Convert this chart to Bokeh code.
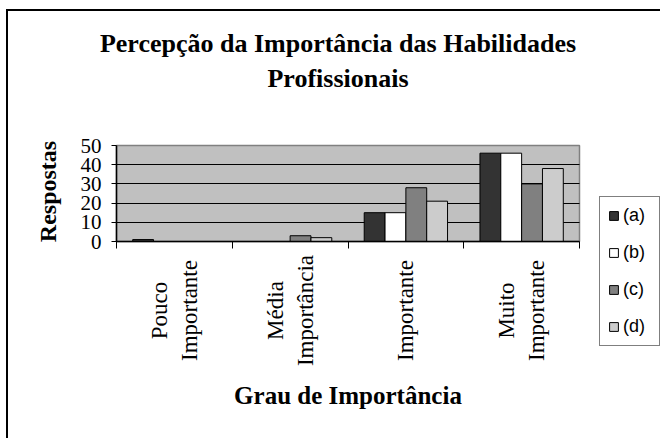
from math import pi
from bokeh.plotting import figure
from bokeh.models import Range1d, FixedTicker, Legend, LegendItem, Label, Grid
from bokeh.embed import file_html
from bokeh.resources import INLINE

# ---- data ----
categories = ["Pouco\nImportante", "Média\nImportância", "Importante", "Muito\nImportante"]
series_names = ["(a)", "(b)", "(c)", "(d)"]
values_a = [1, 0, 15, 46]
values_b = [0, 0, 15, 46]
values_c = [0, 3, 28, 30]
values_d = [0, 2, 21, 38]
y_ticks = [0, 10, 20, 30, 40, 50]
grid_ticks = [10, 20, 30, 40]
colors = ["#333333", "#ffffff", "#808080", "#cccccc"]
title_text = "Percepção da Importância das Habilidades\nProfissionais"
y_title = "Respostas"
x_title = "Grau de Importância"

series = [values_a, values_b, values_c, values_d]
n_cat = len(categories)
y_max = y_ticks[-1]

# ---- layout (pixels) ----
W, H = 660, 438
area_left, area_right = 116, 579     # plot area in canvas pixels
area_top, area_bottom = 145, 241
px_x = (area_right - area_left) / n_cat
px_y = (area_bottom - area_top) / y_max

x_range = Range1d(-area_left / px_x, (W - area_left) / px_x)
y_range = Range1d(-(H - area_bottom) / px_y, y_max + area_top / px_y)

p = figure(width=W, height=H, output_backend="svg", toolbar_location=None,
           x_range=x_range, y_range=y_range,
           min_border_left=0, min_border_right=0,
           min_border_top=0, min_border_bottom=0)

p.background_fill_color = None
p.border_fill_color = None
p.outline_line_color = None
p.styles = {
    "background-image": "linear-gradient(black, black), linear-gradient(black, black)",
    "background-size": "2px 100%, 100% 2px",
    "background-position": "6px 9px, 6px 9px",
    "background-repeat": "no-repeat",
}

# plot area background
p.quad(left=[0], right=[n_cat], bottom=[0], top=[y_max],
       fill_color="#c0c0c0", line_color="#808080", line_width=1.5, level="image")

# grid (limited to the plot area)
p.xgrid.grid_line_color = None
if "cross_bounds" in Grid.properties():
    p.ygrid.ticker = FixedTicker(ticks=grid_ticks)
    p.ygrid.cross_bounds = (0, n_cat)
    p.ygrid.grid_line_color = "black"
    p.ygrid.grid_line_width = 1
else:
    p.ygrid.grid_line_color = None
    p.segment(x0=[0] * len(grid_ticks), x1=[n_cat] * len(grid_ticks),
              y0=grid_ticks, y1=grid_ticks, line_color="black", line_width=1)

# bars
bar_w = 0.18
offsets = [-0.27, -0.09, 0.09, 0.27]
renderers = []
for vals, off, col in zip(series, offsets, colors):
    xs = [i + 0.5 + off for i in range(n_cat)]
    r = p.vbar(x=xs, top=vals, bottom=0, width=bar_w,
               fill_color=col, line_color="black", line_width=1)
    renderers.append(r)

# y axis
p.yaxis.fixed_location = 0
p.yaxis.bounds = (0, y_max)
p.yaxis.ticker = FixedTicker(ticks=y_ticks)
p.yaxis.major_tick_out = 5
p.yaxis.major_tick_in = 0
p.yaxis.minor_tick_line_color = None
p.yaxis.major_label_text_font = "Liberation Serif"
p.yaxis.major_label_text_font_size = "21px"
p.yaxis.major_label_text_color = "black"
p.yaxis.major_label_standoff = 10
p.yaxis.axis_line_color = "black"
p.yaxis.axis_line_width = 1.5
p.yaxis.major_tick_line_color = "black"

# x axis
p.xaxis.fixed_location = 0
p.xaxis.bounds = (0, n_cat)
p.xaxis.ticker = FixedTicker(ticks=list(range(n_cat + 1)))
p.xaxis.major_label_overrides = {i: "" for i in range(n_cat + 1)}
p.xaxis.major_tick_out = 7
p.xaxis.major_tick_in = 0
p.xaxis.minor_tick_line_color = None
p.xaxis.major_tick_line_color = "black"
p.xaxis.axis_line_color = "black"
p.xaxis.axis_line_width = 1.5

serif = "Liberation Serif"

# title
p.add_layout(Label(x=337.5, y=H - 28, x_units="screen", y_units="screen",
                   text=title_text, text_align="center", text_baseline="top",
                   text_font=serif, text_font_size="26px", text_font_style="bold",
                   text_line_height=1.22, text_color="black"))

# y-axis title
p.add_layout(Label(x=47, y=H - 191, x_units="screen", y_units="screen",
                   text=y_title, angle=pi / 2, text_align="center",
                   text_baseline="middle", text_font=serif, text_font_size="24px",
                   text_font_style="bold", text_color="black"))

# x-axis title
p.add_layout(Label(x=n_cat / 2, y=H - 395, x_units="data", y_units="screen",
                   text=x_title, text_align="center", text_baseline="alphabetic",
                   text_font=serif, text_font_size="25px", text_font_style="bold",
                   text_color="black"))

# category labels (rotated, centered)
for i, cat in enumerate(categories):
    p.add_layout(Label(x=i + 0.5, y=H - 310, x_units="data", y_units="screen",
                       text=cat, angle=pi / 2, text_align="center",
                       text_baseline="middle", text_font=serif,
                       text_font_size="23px", text_line_height=1.2,
                       text_color="black"))

# legend
legend = Legend(items=[LegendItem(label=n, renderers=[r]) for n, r in zip(series_names, renderers)],
                location=(599, H - 346), orientation="vertical",
                border_line_color="black", border_line_width=1,
                background_fill_color="white", background_fill_alpha=1,
                padding=8, spacing=16, margin=0,
                glyph_width=11, glyph_height=11, label_standoff=4,
                label_height=20, label_width=28, label_text_font="Liberation Sans",
                label_text_font_size="18px", label_text_color="black")
p.add_layout(legend)

open("out.html", "w").write(file_html(p, INLINE))
